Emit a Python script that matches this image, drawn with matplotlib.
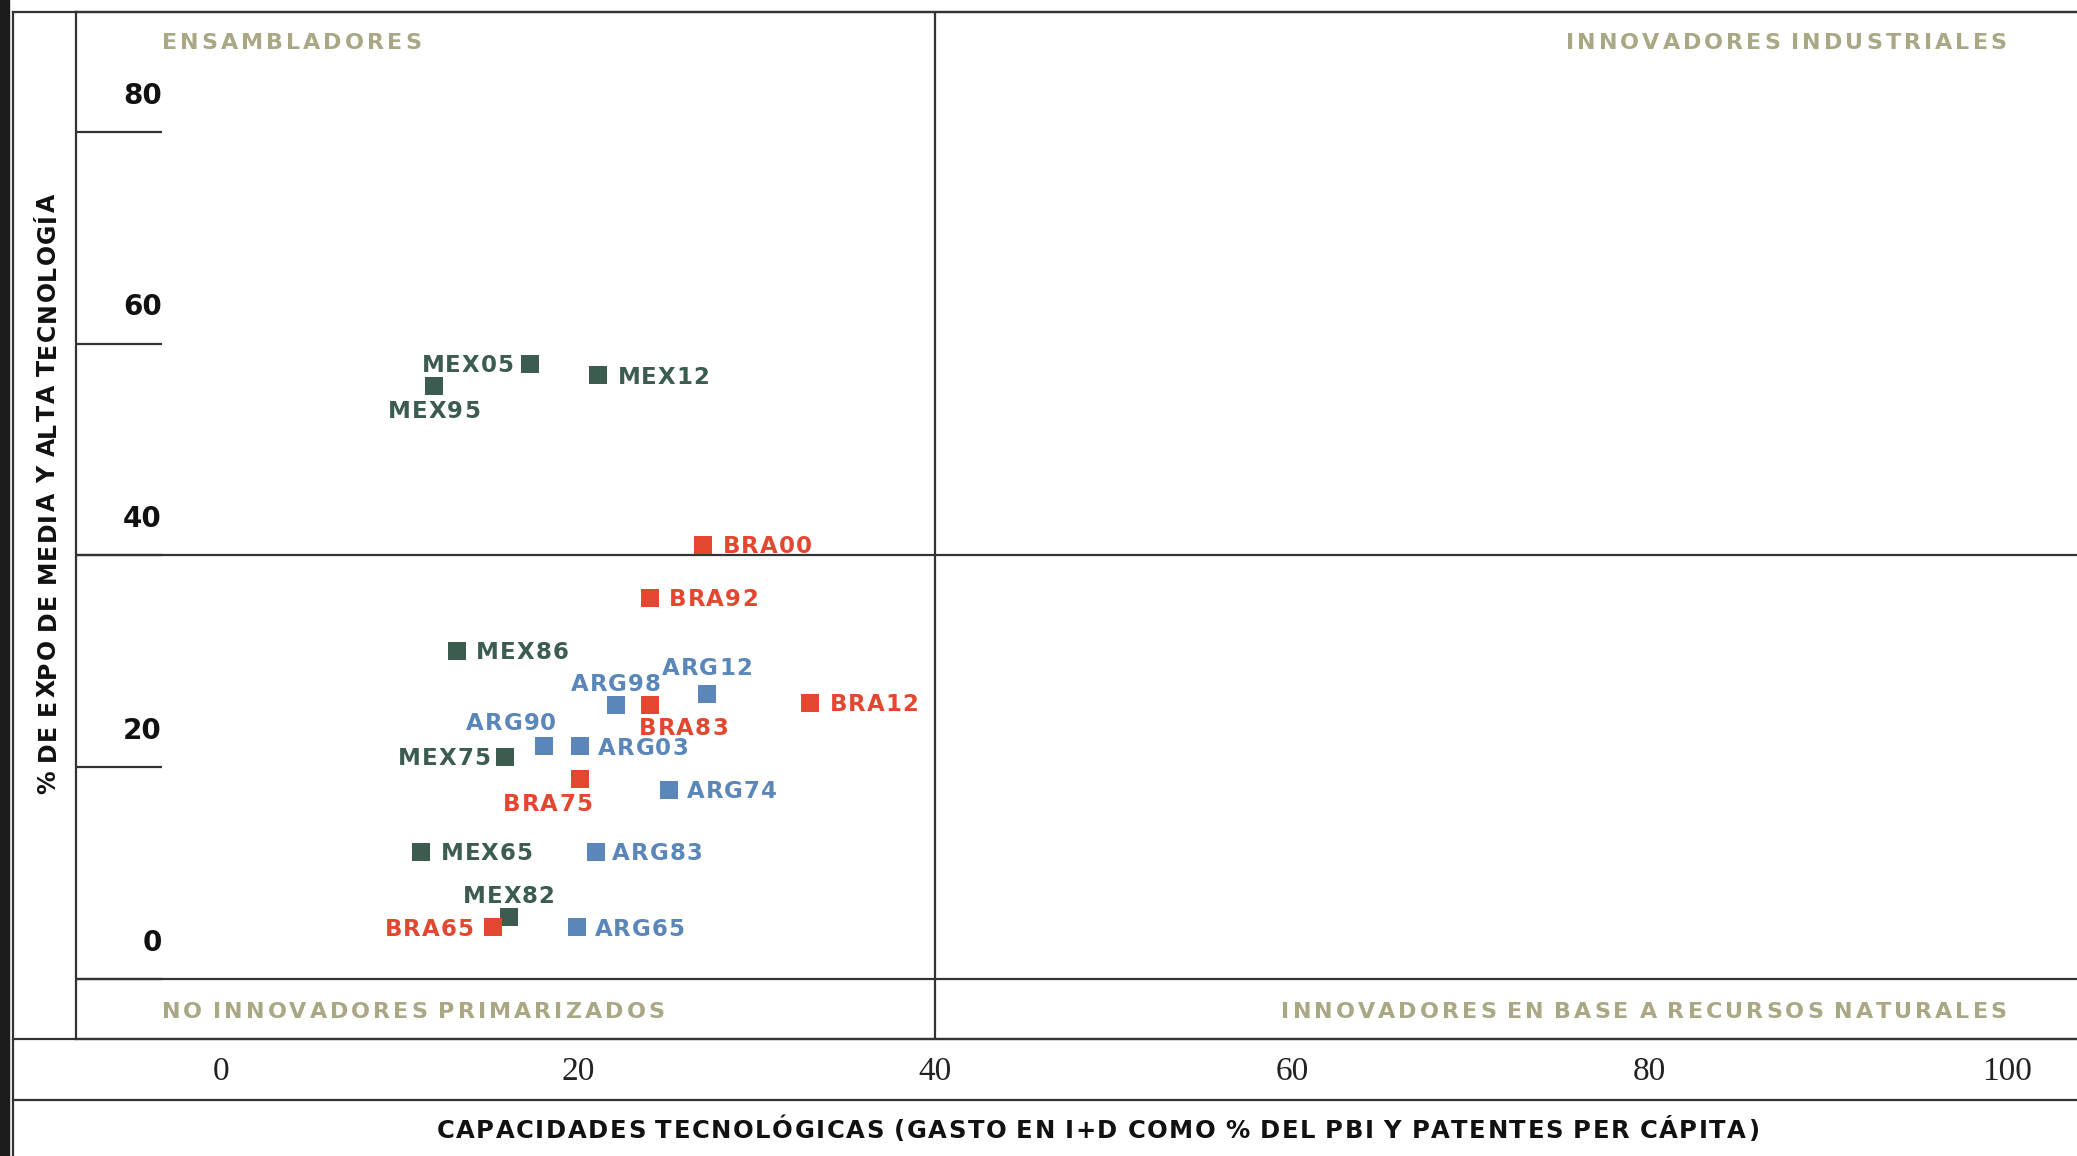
import matplotlib

matplotlib.use("Agg")
import matplotlib.pyplot as plt
from matplotlib.font_manager import FontProperties, findfont, get_font
from matplotlib.lines import Line2D
from matplotlib.patches import Rectangle
from matplotlib.transforms import IdentityTransform

# Datos
mex_labels = ["MEX65", "MEX75", "MEX82", "MEX86", "MEX95", "MEX05", "MEX12"]
mex_x = [11.2, 15.9, 16.1, 13.2, 11.9, 17.3, 21.1]
mex_y = [12.0, 21.0, 5.9, 31.0, 56.0, 58.1, 57.0]

bra_labels = ["BRA65", "BRA75", "BRA83", "BRA92", "BRA00", "BRA12"]
bra_x = [15.2, 20.1, 24.0, 24.0, 27.0, 33.0]
bra_y = [4.9, 18.9, 25.9, 36.0, 41.0, 26.1]

arg_labels = ["ARG65", "ARG74", "ARG83", "ARG90", "ARG98", "ARG03", "ARG12"]
arg_x = [19.9, 25.1, 21.0, 18.1, 22.1, 20.1, 27.2]
arg_y = [4.9, 17.9, 12.0, 22.0, 25.9, 22.0, 26.9]

x_ticks = [0, 20, 40, 60, 80, 100]
y_ticks = [0, 20, 40, 60, 80]

quadrantes = [
    "ENSAMBLADORES",
    "INNOVADORES INDUSTRIALES",
    "NO INNOVADORES PRIMARIZADOS",
    "INNOVADORES EN BASE A RECURSOS NATURALES",
]
x_titulo = "CAPACIDADES TECNOLÓGICAS (GASTO EN I+D COMO % DEL PBI Y PATENTES PER CÁPITA)"
y_titulo = "% DE EXPO DE MEDIA Y ALTA TECNOLOGÍA"

# Posicion de cada etiqueta: (dx pt, dy pt, ha)
etiquetas_pos = {
    "MEX05": (-12, 0, "right"),
    "MEX95": (0, -17, "center"),
    "MEX12": (14, 0, "left"),
    "MEX86": (14, 0, "left"),
    "MEX75": (-11, 0, "right"),
    "MEX65": (14, 0, "left"),
    "MEX82": (0, 16, "center"),
    "BRA00": (14, 0, "left"),
    "BRA92": (14, 0, "left"),
    "BRA12": (14, 0, "left"),
    "BRA83": (-7.5, -16, "left"),
    "BRA75": (8.5, -17, "right"),
    "BRA65": (-14, 0, "right"),
    "ARG12": (0, 20, "center"),
    "ARG98": (0, 16, "center"),
    "ARG90": (8.5, 18, "right"),
    "ARG03": (13, 0, "left"),
    "ARG74": (12.5, 0, "left"),
    "ARG83": (11.5, 0, "left"),
    "ARG65": (13, 0, "left"),
}

VERDE = "#3b5c4e"
ROJO = "#e3472f"
AZUL = "#5b86b9"
KHAKI = "#aaa785"
LINEA = "#333333"
FUENTE = "DejaVu Sans"
DPI = 100

fig = plt.figure(figsize=(20.77, 11.56), dpi=DPI)
fig.patch.set_facecolor("white")

W, H = 1568.0, 873.0  # coordenadas de referencia
SX, SY = 2077 / W, 1156 / H


def fx(px):
    return px / W


def fy(py):
    return 1 - py / H


def avances(s, size):
    font = get_font(findfont(FontProperties(family=FUENTE, weight="bold")))
    font.set_size(size, DPI)
    return [font.load_char(ord(c)).linearHoriAdvance / 65536 for c in s]


def texto_espaciado(x, y, s, size, track, color, ha="left", rot=0):
    # x, y en pixeles de la figura; y = centro de las mayusculas
    adv = avances(s, size)
    pasos = [a + (0 if c == " " else track) for c, a in zip(s, adv)]
    total = sum(pasos) - track
    pos = -{"left": 0, "center": total / 2, "right": total}[ha]
    cap = 0.73 * size * DPI / 72
    for c, p in zip(s, pasos):
        if rot == 0:
            px, py = x + pos, y - cap / 2
        else:
            px, py = x + cap / 2, y + pos
        fig.text(
            px, py, c,
            transform=IdentityTransform(),
            fontsize=size, fontweight="bold", family=FUENTE, color=color,
            ha="left", va="baseline", rotation=rot, rotation_mode="anchor",
            zorder=4,
        )
        pos += p


def ref_px(x, y):
    return x * SX, (H - y) * SY


ax = fig.add_axes([fx(57), fy(785), 1 - fx(57), fy(9) - fy(785)])
ax.set_xlim(-8.16, 103.93)
ax.set_ylim(-5.69, 91.31)

ax.spines["right"].set_visible(False)
for side in ["left", "top", "bottom"]:
    ax.spines[side].set_color(LINEA)
    ax.spines[side].set_linewidth(1.6)

ax.axhline(40, color=LINEA, lw=1.6)
ax.axhline(0, color=LINEA, lw=1.6)
ax.axvline(40, color=LINEA, lw=1.6)

ax.set_yticks(y_ticks)
ax.set_yticklabels([])
ax.tick_params(axis="y", direction="in", length=62, width=1.6, color=LINEA)
for v in y_ticks:
    ax.annotate(
        str(v),
        xy=(0.043, v),
        xycoords=ax.get_yaxis_transform(),
        xytext=(0, 26),
        textcoords="offset points",
        ha="right",
        va="center",
        fontsize=20,
        fontweight="bold",
        family=FUENTE,
        color="#111111",
    )

ax.set_xticks(x_ticks)
ax.set_xticklabels([str(v) for v in x_ticks], family="Liberation Serif", fontsize=24, color="#222222")
ax.tick_params(axis="x", length=0, pad=12)


def dibujar_serie(xs, ys, labels, color):
    ax.scatter(xs, ys, marker="s", s=150, color=color, linewidths=0, zorder=3)
    for x, y, lab in zip(xs, ys, labels):
        dx, dy, ha = etiquetas_pos[lab]
        px, py = ax.transData.transform((x, y))
        texto_espaciado(px + dx * DPI / 72, py + dy * DPI / 72, lab, 16.5, 1.0, color, ha=ha)


dibujar_serie(mex_x, mex_y, mex_labels, VERDE)
dibujar_serie(arg_x, arg_y, arg_labels, AZUL)
dibujar_serie(bra_x, bra_y, bra_labels, ROJO)

# Etiquetas de cuadrantes
texto_espaciado(*ref_px(122, 31), quadrantes[0], 16, 3.0, KHAKI, ha="left")
texto_espaciado(*ref_px(1515, 31), quadrantes[1], 16, 3.0, KHAKI, ha="right")
texto_espaciado(*ref_px(122, 763), quadrantes[2], 16, 3.0, KHAKI, ha="left")
texto_espaciado(*ref_px(1515, 763), quadrantes[3], 16, 3.0, KHAKI, ha="right")

# Marco exterior
for py in [9, 785, 831]:
    fig.add_artist(Line2D([fx(10), 1], [fy(py), fy(py)], color=LINEA, lw=1.6))
fig.add_artist(Line2D([fx(10), fx(10)], [0, fy(9)], color=LINEA, lw=1.6))
fig.add_artist(Rectangle((0, 0), fx(7), 1, transform=fig.transFigure, color="#1c1c1c"))

texto_espaciado(*ref_px(828.5, 853), x_titulo, 17.5, 1.6, "#111111", ha="center")
texto_espaciado(*ref_px(35, 373), y_titulo, 17, 1.2, "#111111", ha="center", rot=90)

fig.savefig("out.png", dpi=DPI)
